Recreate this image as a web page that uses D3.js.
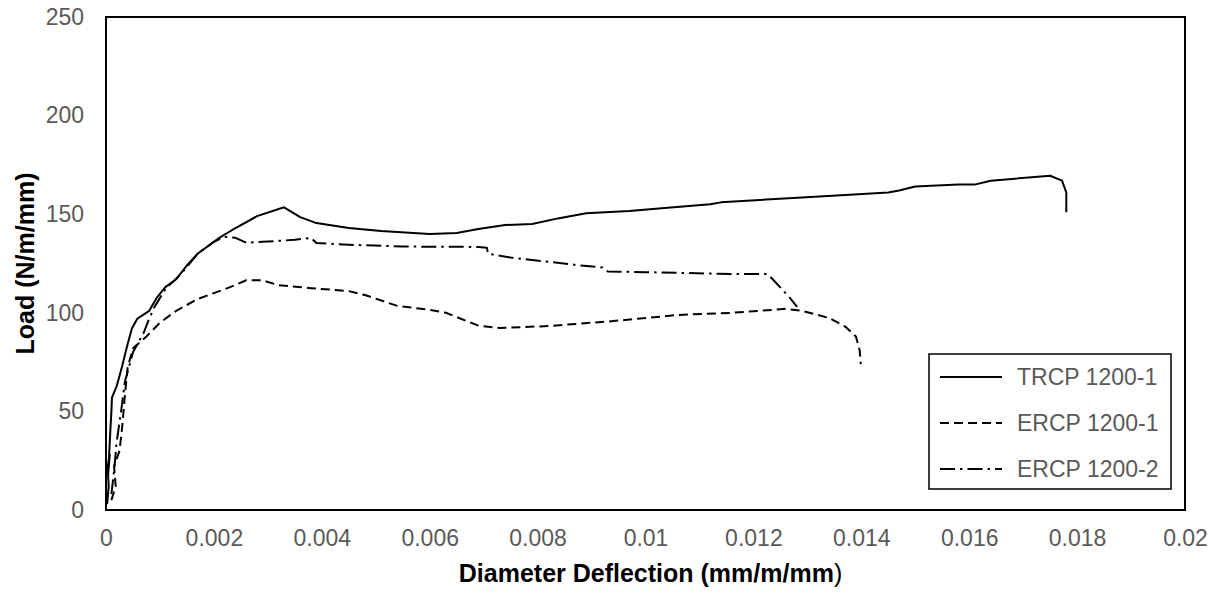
<!DOCTYPE html>
<html>
<head>
<meta charset="utf-8">
<script src="https://cdn.jsdelivr.net/npm/d3@7"></script>
<style>
  body { margin: 0; background: #fff; }
  text { font-family: "Liberation Sans", Arial, sans-serif; }
</style>
</head>
<body>
<div id="chart"></div>
<script>
// Load vs diameter deflection
var trcp1 = [
  [0.00002, 3], [0.00005, 12], [0.00003, 22], [0.00007, 28], [0.00004, 18],
  [0.00008, 40], [0.0001, 50], [0.00011, 57], [0.0002, 63], [0.0003, 73],
  [0.0004, 84], [0.00048, 92], [0.00058, 97], [0.0008, 101], [0.00095, 108],
  [0.0011, 113], [0.0013, 117], [0.0015, 124], [0.0017, 130], [0.0019, 134],
  [0.0021, 138], [0.0024, 143], [0.0028, 149], [0.0033, 153.5], [0.0036, 148.5],
  [0.0039, 145.5], [0.0045, 143], [0.0051, 141.5], [0.006, 140], [0.0065, 140.5],
  [0.0069, 142.5], [0.0074, 144.5], [0.0079, 145], [0.0084, 148], [0.0089, 150.5],
  [0.0097, 151.6], [0.0103, 153], [0.0112, 155], [0.0114, 156], [0.0129, 158.5],
  [0.0145, 161], [0.0147, 162], [0.015, 164], [0.0158, 165], [0.0161, 165],
  [0.0164, 167], [0.0175, 169.5], [0.01772, 167], [0.0178, 161], [0.0178, 151]
];

var ercp1 = [
  [0.0001, 5], [0.00018, 12], [0.00015, 22], [0.00025, 30], [0.0003, 42],
  [0.00035, 58], [0.0004, 72], [0.0005, 82], [0.00075, 88], [0.001, 95],
  [0.0013, 101], [0.0017, 107], [0.002, 110], [0.0023, 113], [0.0026, 116.5],
  [0.0029, 116.5], [0.0032, 114], [0.0038, 112.5], [0.0045, 111], [0.0048, 109],
  [0.0054, 103.5], [0.006, 101.5], [0.0063, 100], [0.0069, 93.5], [0.0073, 92.3],
  [0.0082, 93.3], [0.0094, 95.8], [0.0106, 98.9], [0.0116, 100], [0.0126, 102],
  [0.0129, 101], [0.0134, 97.4], [0.0137, 93], [0.0139, 88], [0.01397, 81],
  [0.01399, 74]
];

var ercp2 = [
  [0.0001, 8], [0.00015, 20], [0.0002, 35], [0.00028, 50], [0.00035, 65],
  [0.0005, 80], [0.0007, 90], [0.0008, 97], [0.0009, 103], [0.0011, 112],
  [0.0014, 120], [0.0017, 130], [0.002, 136], [0.0022, 138.5], [0.0024, 138],
  [0.0026, 135.5], [0.0029, 136], [0.0035, 137], [0.0038, 138], [0.0039, 135.4],
  [0.0045, 134.5], [0.0055, 133.6], [0.0069, 133.4], [0.00706, 133],
  [0.00708, 130], [0.0075, 128], [0.0088, 124], [0.0092, 123], [0.0093, 121],
  [0.01, 120.6], [0.0116, 119.7], [0.01225, 119.7], [0.01234, 117.5],
  [0.01268, 107.5], [0.01281, 103]
];

var seriesNames = ['TRCP 1200-1', 'ERCP 1200-1', 'ERCP 1200-2'];
var seriesData  = [trcp1, ercp1, ercp2];
var dashes      = [null, '9,5', '15,5,2.5,5'];

var xTicks = [0, 0.002, 0.004, 0.006, 0.008, 0.01, 0.012, 0.014, 0.016, 0.018, 0.02];
var yTicks = [0, 50, 100, 150, 200, 250];

var W = 1214, H = 593;
var margin = {left: 106, top: 17, right: 29, bottom: 83};
var w = W - margin.left - margin.right,
    h = H - margin.top - margin.bottom;

var svg = d3.select('#chart').append('svg')
    .attr('width', W)
    .attr('height', H);

var g = svg.append('g')
    .attr('transform', 'translate(' + margin.left + ',' + margin.top + ')');

var x = d3.scaleLinear().domain([0, 0.02]).range([0, w]);
var y = d3.scaleLinear().domain([0, 250]).range([h, 0]);

// axes: labels only, no tick marks
var xAxis = g.append('g')
    .attr('transform', 'translate(0,' + h + ')')
    .call(d3.axisBottom(x).tickValues(xTicks).tickSize(0).tickPadding(20)
      .tickFormat(function(d) { return String(+d.toFixed(3)); }));
var yAxis = g.append('g')
    .call(d3.axisLeft(y).tickValues(yTicks).tickSize(0).tickPadding(22));

[xAxis, yAxis].forEach(function(a) {
  a.select('.domain').remove();
  a.selectAll('text')
    .style('font-size', '23px')
    .attr('fill', '#595959');
});

var line = d3.line()
    .x(function(d) { return x(d[0]); })
    .y(function(d) { return y(d[1]); });

g.selectAll('path.series')
    .data(seriesData)
  .enter().append('path')
    .attr('class', 'series')
    .attr('d', line)
    .attr('fill', 'none')
    .attr('stroke', '#000')
    .attr('stroke-width', 2)
    .attr('stroke-linejoin', 'round')
    .attr('stroke-dasharray', function(d, i) { return dashes[i]; });

// plot frame
g.append('rect')
    .attr('width', w)
    .attr('height', h)
    .attr('fill', 'none')
    .attr('stroke', '#000')
    .attr('stroke-width', 2);

// axis titles
svg.append('text')
    .attr('x', margin.left + w / 2 + 5)
    .attr('y', 582)
    .attr('text-anchor', 'middle')
    .style('font-size', '25px')
    .style('font-weight', 'bold')
    .text('Diameter Deflection (mm/m/mm')
  .append('tspan')
    .style('font-weight', 'normal')
    .text(')');

svg.append('text')
    .attr('transform', 'translate(25,' + (margin.top + h / 2) + ') rotate(-90)')
    .attr('text-anchor', 'middle')
    .attr('dy', '0.35em')
    .style('font-size', '25px')
    .style('font-weight', 'bold')
    .text('Load (N/m/mm)');

// legend
var legend = svg.append('g')
    .attr('transform', 'translate(929,354)');

legend.append('rect')
    .attr('width', 242)
    .attr('height', 135)
    .attr('fill', '#fff')
    .attr('stroke', '#000')
    .attr('stroke-width', 1.5);

var item = legend.selectAll('g.item')
    .data(seriesNames)
  .enter().append('g')
    .attr('class', 'item')
    .attr('transform', function(d, i) { return 'translate(0,' + (23 + i * 46) + ')'; });

item.append('line')
    .attr('x1', 11).attr('x2', 73)
    .attr('stroke', '#000')
    .attr('stroke-width', 2)
    .attr('stroke-dasharray', function(d, i) { return dashes[i]; });

item.append('text')
    .attr('x', 88)
    .attr('dy', '0.35em')
    .style('font-size', '23px')
    .attr('fill', '#595959')
    .text(function(d) { return d; });
</script>
</body>
</html>
